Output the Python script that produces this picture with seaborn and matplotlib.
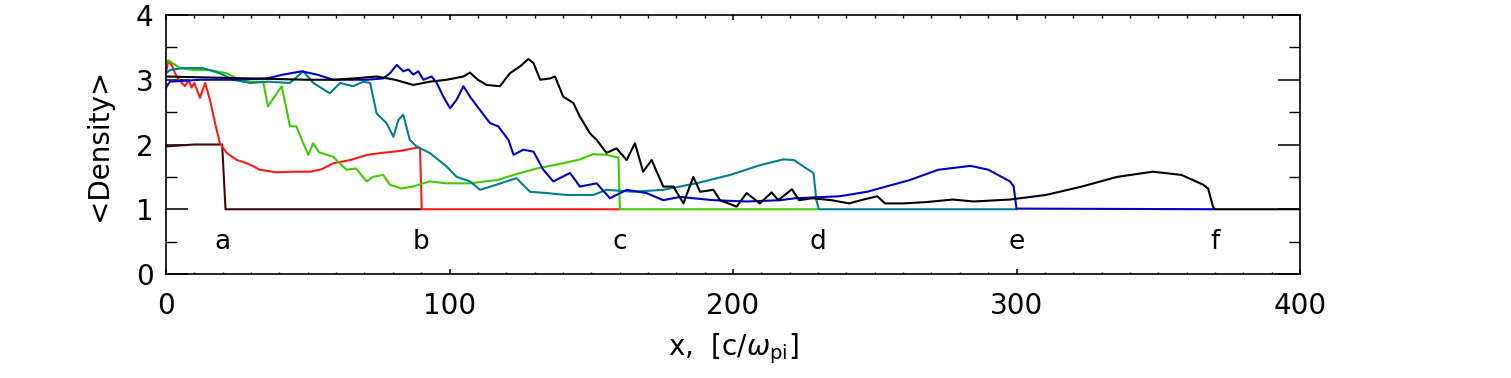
import matplotlib
matplotlib.use("Agg")
import matplotlib.pyplot as plt
import seaborn as sns
import pandas as pd
from matplotlib.ticker import MultipleLocator

sns.set_style("ticks")
plt.rcParams['font.family'] = ['DejaVu Sans']
plt.rcParams['mathtext.fontset'] = 'dejavusans'
plt.rcParams['text.color'] = 'black'
plt.rcParams['axes.labelcolor'] = 'black'
plt.rcParams['xtick.color'] = 'black'
plt.rcParams['ytick.color'] = 'black'

# ---- data (x in c/omega_pi, y = <Density>) ----
brown_pts = [(0, 1.97), (10, 2.0), (19.8, 2.0), (21, 1.0), (90, 1.0)]
red_pts = [(0, 3.1), (0.8, 3.29), (2, 3.23), (3, 3.12), (3.8, 3.05), (5, 2.98), (6.7, 2.9), (8, 3.0),
           (9, 2.88), (10, 2.95), (12, 2.72), (13.8, 2.95), (15.5, 2.69), (17.3, 2.33), (19, 2.02),
           (21.4, 1.87), (23, 1.82), (25, 1.76), (28.5, 1.71), (31, 1.66), (33, 1.61), (36, 1.59),
           (39, 1.57), (45, 1.58), (51, 1.58), (55, 1.62), (59, 1.71), (65, 1.76), (71, 1.84),
           (76, 1.87), (82.5, 1.90), (86, 1.93), (88.4, 1.95), (89.6, 1.95), (90.2, 1.0), (160, 1.0)]
green_pts = [(0, 3.25), (0.8, 3.30), (5, 3.18), (9.6, 3.15), (15.5, 3.15), (21.4, 3.10), (26, 3.0),
             (29.6, 2.97), (34.3, 2.97), (35.5, 2.69), (36, 2.59), (38, 2.72), (40.8, 2.90), (42.6, 2.53),
             (43.7, 2.28), (46, 2.28), (48.4, 2.02), (50.2, 1.84), (51.9, 2.02), (54, 1.88), (59, 1.81),
             (61, 1.72), (63.7, 1.61), (67, 1.63), (70.8, 1.43), (73, 1.50), (76.6, 1.53), (79, 1.38),
             (83, 1.32), (87, 1.35), (93, 1.43), (99, 1.40), (107, 1.40), (116.6, 1.45), (125, 1.56),
             (130.8, 1.63), (140, 1.71), (146, 1.77), (150.7, 1.85), (155.4, 1.84), (158.4, 1.81),
             (159.6, 1.8), (160.1, 1.0), (230, 1.0)]
teal_pts = [(0, 3.1), (1.4, 3.15), (6, 3.18), (13, 3.18), (19, 3.10), (23.7, 3.0), (29.6, 2.95),
            (36, 2.97), (43.7, 2.95), (48.4, 3.13), (52, 2.95), (57.8, 2.79), (61.4, 2.95), (66, 2.90),
            (69.6, 2.97), (72, 2.95), (74.3, 2.48), (77.8, 2.33), (80.2, 2.12), (82, 2.38), (83.7, 2.46),
            (86, 2.07), (88.4, 1.97), (93, 1.87), (99, 1.66), (102.5, 1.50), (107.2, 1.43), (110.8, 1.30),
            (116.6, 1.38), (123.6, 1.48), (128.4, 1.27), (134.3, 1.25), (141.3, 1.22), (150.7, 1.22),
            (155.4, 1.30), (164.8, 1.27), (175.4, 1.30), (187, 1.40), (199, 1.53), (209.5, 1.68),
            (217.7, 1.77), (221.5, 1.76), (225.9, 1.63), (228.4, 1.56), (229.4, 1.14), (230.3, 1.0),
            (300, 1.0)]
blue_pts = [(0, 2.87), (0.3, 2.9), (1.4, 2.97), (12, 3.0), (24, 3.0), (35.5, 3.02), (41.4, 3.08),
            (47.9, 3.13), (53.2, 3.08), (59, 3.0), (70.8, 3.0), (76.6, 3.02), (79, 3.1), (81.4, 3.23),
            (83.7, 3.13), (85.5, 3.16), (87.2, 3.08), (89, 3.13), (90.8, 3.0), (93.7, 3.05), (95.5, 2.95),
            (97.8, 2.74), (100.2, 2.56), (102.5, 2.69), (104.9, 2.90), (107.2, 2.74), (110.8, 2.53),
            (114.3, 2.33), (117.2, 2.28), (120.8, 2.07), (122.6, 1.84), (126, 1.92), (129.6, 1.89),
            (133.1, 1.61), (136.6, 1.43), (142.5, 1.56), (146, 1.35), (151.9, 1.40), (156.6, 1.17),
            (162.5, 1.30), (169.5, 1.25), (175.4, 1.14), (181.3, 1.19), (193.1, 1.14), (204.8, 1.12),
            (216.6, 1.14), (222, 1.17), (237.5, 1.20), (247.3, 1.27), (262.3, 1.45), (272.4, 1.61),
            (283.8, 1.67), (290.1, 1.61), (297.7, 1.43), (299, 1.35), (300, 1.01), (370, 1.0)]
black_pts = [(0, 3.05), (10, 3.04), (20, 3.03), (30, 3.02), (40, 3.01), (50, 3.0), (59, 3.0), (66, 3.02),
             (74.3, 3.05), (80.8, 3.0), (87.2, 2.92), (93, 2.97), (99, 3.0), (104.9, 3.05), (107.2, 3.11),
             (110, 3.0), (113.1, 2.92), (117.8, 2.90), (121.3, 3.10), (125, 3.21), (127.8, 3.32),
             (129.6, 3.26), (132, 3.0), (135.4, 3.02), (137.2, 3.05), (140.1, 2.74), (143.7, 2.64),
             (146, 2.43), (149.6, 2.17), (151.9, 2.07), (155.4, 1.87), (158.9, 1.94), (162.5, 1.76),
             (165.4, 2.02), (168.3, 1.58), (171.3, 1.76), (175.4, 1.35), (179, 1.35), (182.5, 1.09),
             (186, 1.50), (188.4, 1.27), (193.1, 1.30), (195.4, 1.14), (201.3, 1.04), (204.8, 1.25),
             (209.5, 1.09), (213.6, 1.26), (216, 1.14), (220.8, 1.31), (223.3, 1.14), (228, 1.17),
             (234.7, 1.14), (241, 1.09), (246, 1.15), (250.9, 1.20), (253.6, 1.09), (259.9, 1.09),
             (268, 1.11), (277.5, 1.15), (285, 1.12), (297.7, 1.15), (310.3, 1.22), (323, 1.35),
             (335.5, 1.50), (348.1, 1.58), (358.2, 1.53), (365.8, 1.38), (367.6, 1.32), (369.3, 1.04),
             (370, 1.0), (400, 1.0)]

series = [
    ("a", brown_pts, "#3c0a0a"),
    ("b", red_pts, "#ff1a1a"),
    ("c", green_pts, "#3dcc00"),
    ("d", teal_pts, "#00808c"),
    ("e", blue_pts, "#0000c8"),
    ("f", black_pts, "#000000"),
]

letter_labels = ["a", "b", "c", "d", "e", "f"]
letter_x = [20, 90, 160, 230, 300, 370]
letter_y = 0.5

fig = plt.figure(figsize=(15.11, 3.78), dpi=100)
ax = fig.add_axes([166 / 1511, 1 - 274 / 378, (1300 - 166) / 1511, (274 - 15) / 378])

for name, pts, col in series:
    df = pd.DataFrame(pts, columns=["x", "y"])
    sns.lineplot(data=df, x="x", y="y", sort=False, estimator=None, color=col,
                 linewidth=1.5, ax=ax)

for lab, lx in zip(letter_labels, letter_x):
    ax.text(lx, letter_y, lab, ha="center", va="center", fontsize=19)

ax.set_xlim(0, 400)
ax.set_ylim(0, 4)
ax.xaxis.set_major_locator(MultipleLocator(100))
ax.xaxis.set_minor_locator(MultipleLocator(10))
ax.yaxis.set_major_locator(MultipleLocator(1))
ax.yaxis.set_minor_locator(MultipleLocator(0.5))

ax.tick_params(axis="x", which="major", direction="in", length=3.5, width=1.1,
               top=True, bottom=True, labelsize=20, pad=13)
ax.tick_params(axis="x", which="minor", direction="in", length=1.8, width=1.0,
               top=True, bottom=True)
ax.tick_params(axis="y", which="major", direction="in", length=16, width=1.1,
               left=True, right=True, labelsize=20, pad=9)
ax.tick_params(axis="y", which="minor", direction="in", length=8, width=1.0,
               left=True, right=True)

for s in ax.spines.values():
    s.set_linewidth(1.2)
    s.set_color("black")

ax.set_xlabel(r"x,  [c/$\omega_{\rm pi}$]", fontsize=20)
ax.xaxis.set_label_coords(0.5, -0.22)
ax.xaxis.label.set_va("top")
ax.set_ylabel("<Density>", fontsize=20)
ax.yaxis.set_label_coords(-0.047, 0.5)

fig.savefig("out.png", dpi=100)
